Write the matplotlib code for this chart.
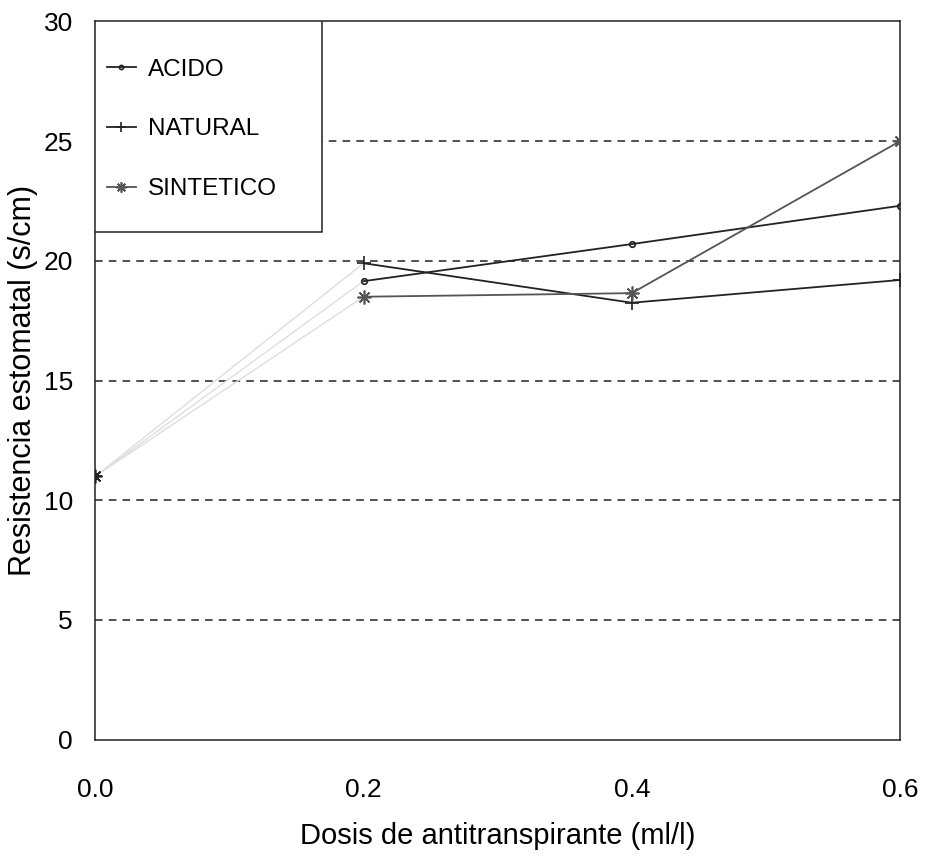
import matplotlib
matplotlib.use("Agg")
import matplotlib.pyplot as plt
from matplotlib.patches import Rectangle

plt.rcParams["font.family"] = ["Liberation Sans", "DejaVu Sans"]

# Dosis (ml/l) and stomatal resistance (s/cm) per treatment
dosis = [0.0, 0.2, 0.4, 0.6]
acido = [11.0, 19.15, 20.7, 22.3]
natural = [11.0, 19.9, 18.25, 19.2]
sintetico = [11.0, 18.5, 18.65, 25.0]

series = [
    ("ACIDO", acido, "o", 4, "#222222"),
    ("NATURAL", natural, "+", 10, "#222222"),
    ("SINTETICO", sintetico, (8, 2, 0), 10, "#555555"),
]

y_ticks = [0, 5, 10, 15, 20, 25, 30]
x_ticks = [0.0, 0.2, 0.4, 0.6]
x_ticklabels = ["0.0", "0.2", "0.4", "0.6"]

fig = plt.figure(figsize=(9.25, 8.58), dpi=100)
ax = fig.add_axes([0.103, 0.138, 0.870, 0.837])

# dashed reference lines between the frame edges
for yv in y_ticks[1:-1]:
    ax.axhline(yv, color="#222222", lw=1.1, ls=(0, (5, 4)), zorder=1)

for name, vals, mk, ms, col in series:
    # first segment is faint in the printed original
    ax.plot(dosis[:2], vals[:2], color="#dedede", lw=1.0, zorder=2)
    ax.plot(dosis[:1], vals[:1], color="#222222", marker=mk, ms=ms,
            mfc="none", mew=1.2, ls="none", zorder=3)
    ax.plot(dosis[1:], vals[1:], color=col, lw=1.3, marker=mk, ms=ms,
            mfc="none", mew=1.2, label=name, zorder=3)

ax.set_xlim(0.0, 0.6)
ax.set_ylim(0, 30)
ax.set_yticks(y_ticks)
ax.set_xticks(x_ticks)
ax.set_xticklabels(x_ticklabels)
ax.tick_params(axis="x", length=0, pad=28, labelsize=19)
ax.tick_params(axis="y", length=0, pad=16, labelsize=19)

for sp in ax.spines.values():
    sp.set_linewidth(1.1)
    sp.set_color("#222222")

ax.set_xlabel("Dosis de antitranspirante (ml/l)", fontsize=21, labelpad=14)
ax.set_ylabel("Resistencia estomatal (s/cm)", fontsize=22, labelpad=4)

# legend box drawn separately so its padding can differ per side
ax.add_patch(Rectangle((0, 0.707), 0.282, 0.293, transform=ax.transAxes,
                       facecolor="white", edgecolor="#222222", lw=1.1,
                       zorder=4))
leg = ax.legend(loc="upper left", bbox_to_anchor=(0.014, 0.948),
                frameon=False, borderpad=0, borderaxespad=0, fontsize=17.5,
                handlelength=1.2, handletextpad=0.5, labelspacing=1.55,
                markerscale=0.75)
leg.set_zorder(5)

fig.savefig("out.png", dpi=100, facecolor="white")
